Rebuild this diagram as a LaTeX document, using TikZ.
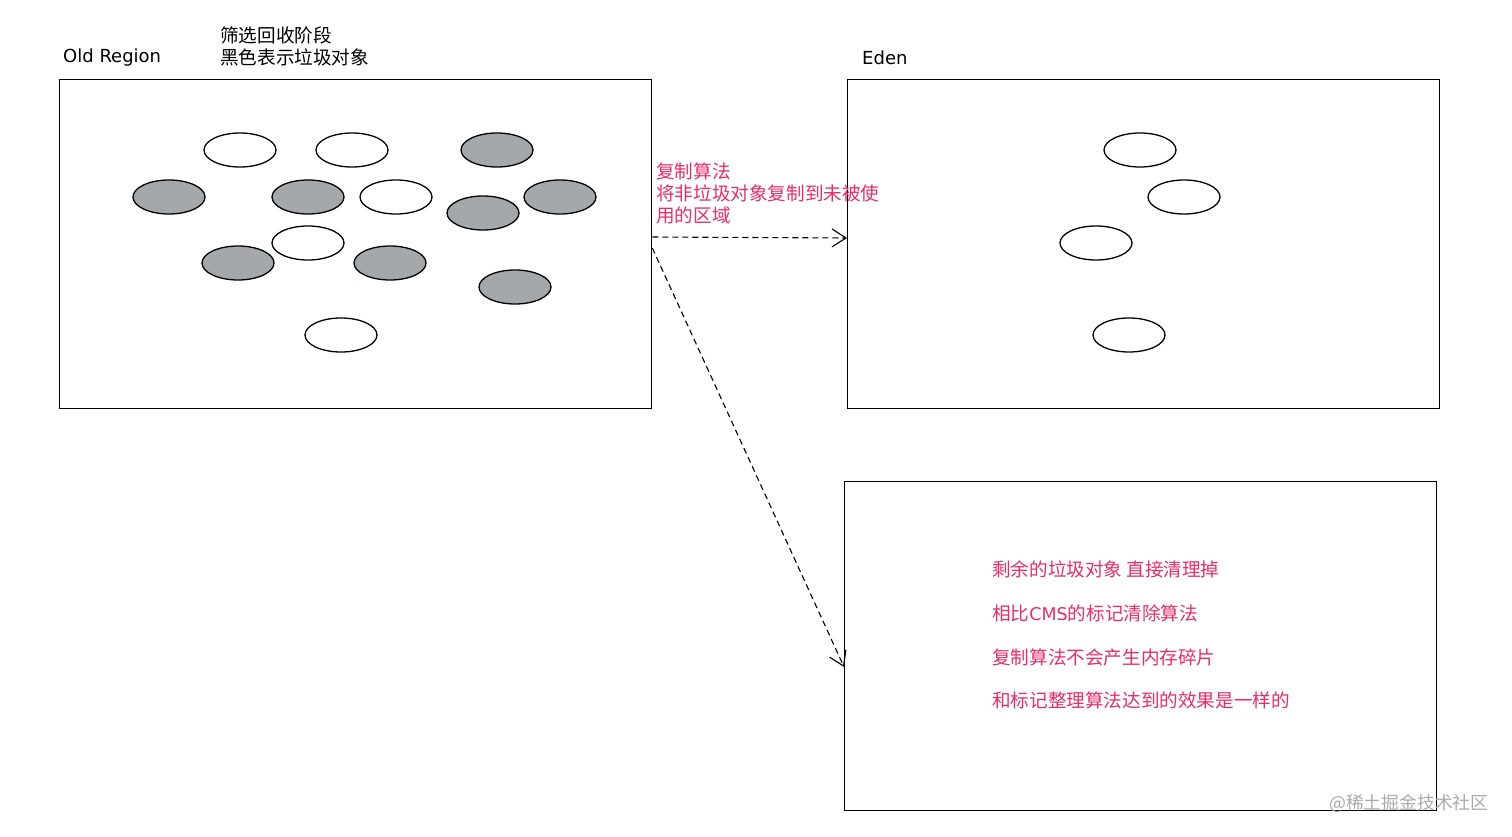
\documentclass[tikz,border=0pt]{standalone}
\usepackage{fontspec}
\setmainfont{Noto Sans CJK SC}
\newfontfamily\latinfont{DejaVu Sans}
\usetikzlibrary{arrows.meta,shapes.geometric}
\definecolor{pinktxt}{RGB}{238,42,105}
\definecolor{garb}{RGB}{164,168,171}
\definecolor{wm}{RGB}{170,170,170}
\tikzset{
  region/.style={draw=black, line width=1.3pt, inner sep=0pt, minimum width=592pt, minimum height=329pt, anchor=north west},
  obj/.style={ellipse, draw=black, line width=1.3pt, minimum width=72pt, minimum height=34pt, inner sep=0pt, fill=white},
  dead/.style={obj, fill=garb},
  lbl/.style={anchor=west, inner sep=0pt, font=\fontsize{18.6}{22}\selectfont},
  latinlbl/.style={lbl, font=\latinfont\fontsize{18}{22}\selectfont},
  note/.style={lbl, text=pinktxt, align=left},
  copyarrow/.style={draw=black, line width=1.1pt, dash pattern=on 6pt off 4pt, -{Straight Barb[length=14pt,width=18pt,line width=1.1pt]}},
}
\begin{document}
\begin{tikzpicture}[x=1pt,y=-1pt]
\useasboundingbox (0,0) rectangle (1512,837);
% regions
\node[region] (old) at (59,79) {};
\node[region] (eden) at (847,79) {};
\node[region] (res) at (844,481) {};
% labels
\node[latinlbl] (oldlbl) at (63,58) {Old Region};
\node[lbl] (phase1) at (220,35) {筛选回收阶段};
\node[lbl] (phase2) at (220,57) {黑色表示垃圾对象};
\node[latinlbl] (edenlbl) at (862,58) {Eden};
% old region objects
\node[obj] (o1) at (240,150) {};
\node[obj] (o2) at (352,150) {};
\node[dead] (o3) at (497,150) {};
\node[dead] (o4) at (169,197) {};
\node[dead] (o5) at (308,197) {};
\node[obj] (o6) at (396,197) {};
\node[dead] (o7) at (560,197) {};
\node[dead] (o8) at (483,213) {};
\node[obj] (o9) at (308,243) {};
\node[dead] (o10) at (238,263) {};
\node[dead] (o11) at (390,263) {};
\node[dead] (o12) at (515,287) {};
\node[obj] (o13) at (341,335) {};
% eden objects
\node[obj] (e1) at (1140,150) {};
\node[obj] (e2) at (1184,197) {};
\node[obj] (e3) at (1096,243) {};
\node[obj] (e4) at (1129,335) {};
% arrows
\coordinate (a1s) at (old.east |- 0,237);
\coordinate (a1e) at (eden.west |- 0,238);
\coordinate (a2s) at (old.east |- 0,248);
\coordinate (a2e) at (res.west |- 0,667);
\draw[copyarrow] (a1s) -- (a1e);
\draw[copyarrow] (a2s) -- (a2e);
% notes
\node[note] (copynote) at (656,193) {复制算法\\将非垃圾对象复制到未被使\\用的区域};
\node[note] (n1) at (992,569) {剩余的垃圾对象 直接清理掉};
\node[note] (n2) at (992,613) {相比{\latinfont\fontsize{17.5}{22}\selectfont CMS}的标记清除算法};
\node[note] (n3) at (992,657) {复制算法不会产生内存碎片};
\node[note] (n4) at (992,700) {和标记整理算法达到的效果是一样的};
% watermark
\node[lbl, text=wm, font=\fontsize{17.8}{20}\selectfont] (wmark) at (1329,803) {@稀土掘金技术社区};
\end{tikzpicture}
\end{document}
